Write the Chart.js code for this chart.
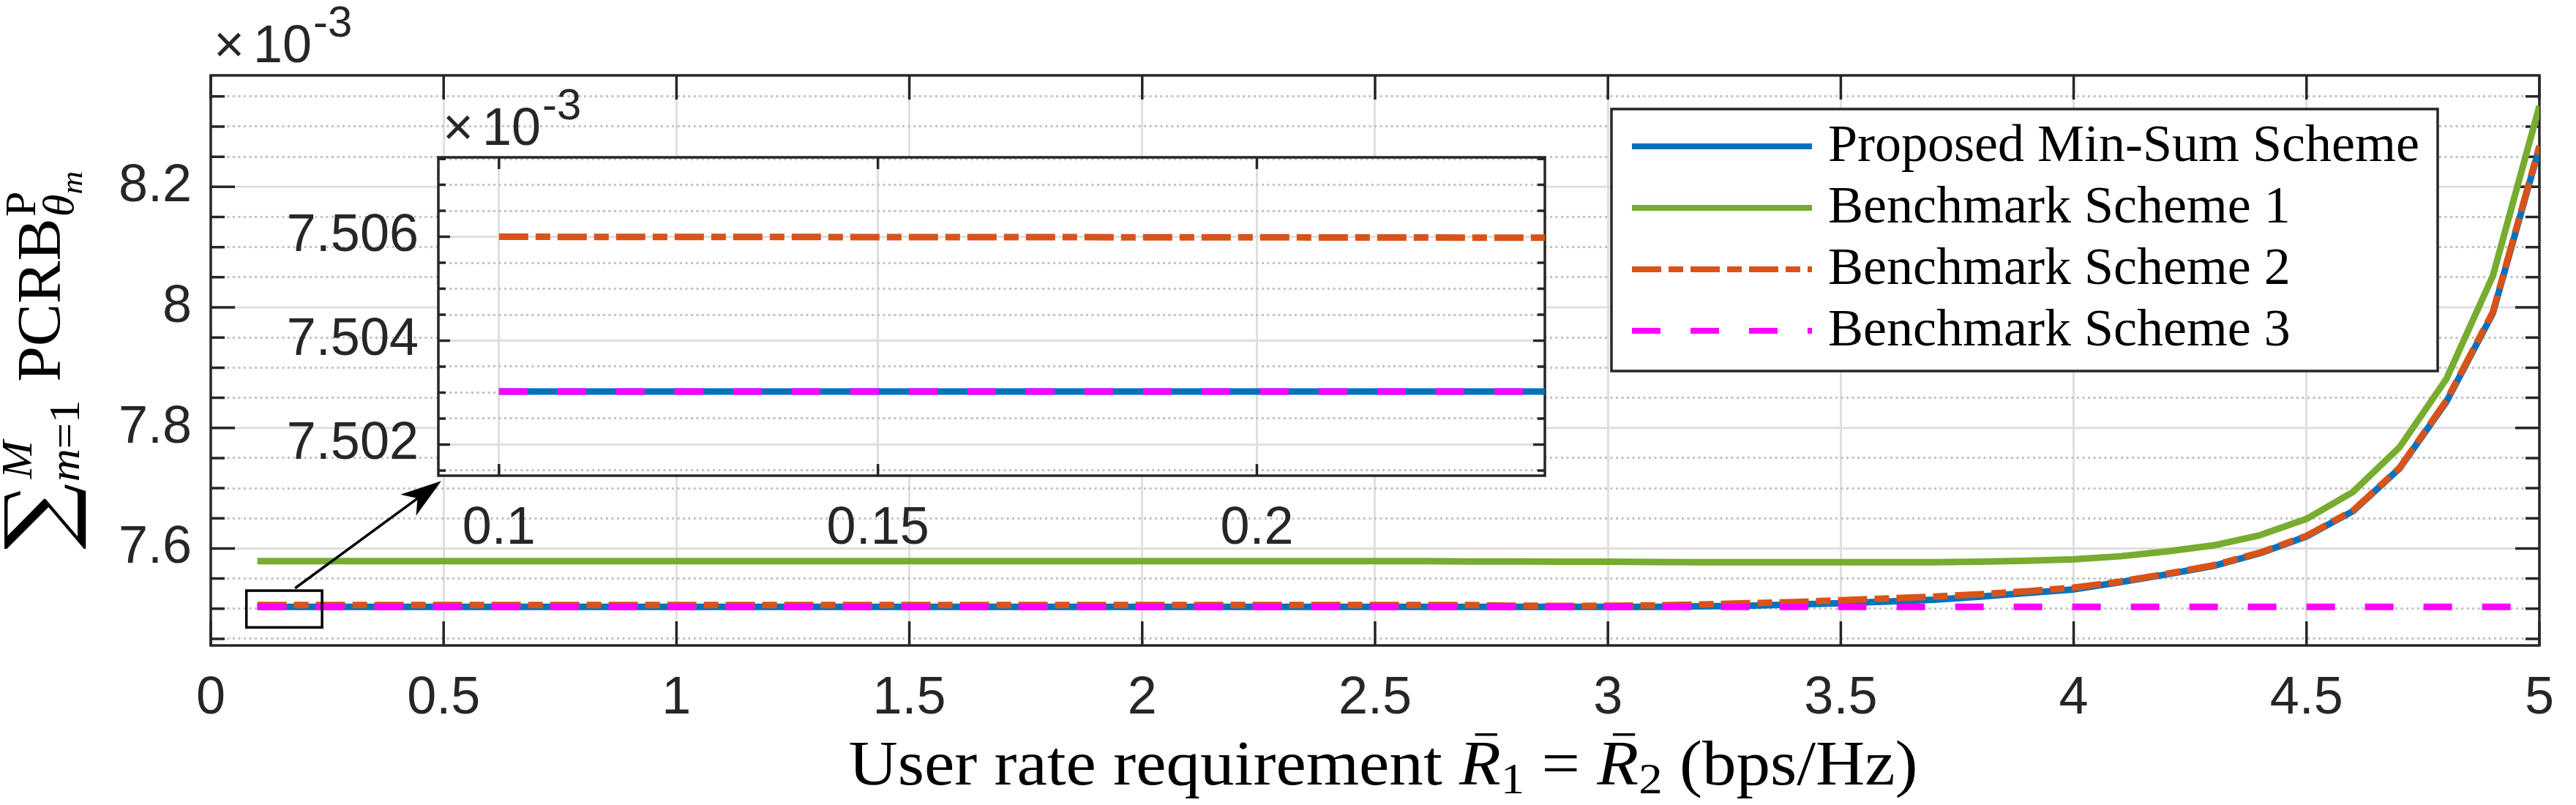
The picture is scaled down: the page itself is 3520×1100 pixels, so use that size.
<!DOCTYPE html>
<html>
<head>
<meta charset="utf-8">
<script src="https://cdn.jsdelivr.net/npm/chart.js@4.4.1/dist/chart.umd.min.js"></script>
<style>
  html, body { margin: 0; padding: 0; background: #fff; }
  #wrap { position: relative; width: 3520px; height: 1100px; }
  #wrap canvas { position: absolute; left: 0; top: 0; }
</style>
</head>
<body>
<div id="wrap">
  <canvas id="main" width="3520" height="1100"></canvas>
  <canvas id="inset" width="3520" height="1100"></canvas>
</div>
<script>
// user rate requirement (bps/Hz)
const rates = [
  0.1, 0.2, 0.3, 0.4, 0.5, 0.6, 0.7, 0.8, 0.9, 1.0,
  1.1, 1.2, 1.3, 1.4, 1.5, 1.6, 1.7, 1.8, 1.9, 2.0,
  2.1, 2.2, 2.3, 2.4, 2.5, 2.6, 2.7, 2.8, 2.9, 3.0,
  3.1, 3.2, 3.3, 3.4, 3.5, 3.6, 3.7, 3.8, 3.9, 4.0,
  4.1, 4.2, 4.3, 4.4, 4.5, 4.6, 4.7, 4.8, 4.9, 5.0
];

// sum PCRB, in units of 1e-3
const proposed = [
  7.50302, 7.50302, 7.50302, 7.50302, 7.50302, 7.50302, 7.50302, 7.50302, 7.50302, 7.50302,
  7.50302, 7.50302, 7.50302, 7.50302, 7.50302, 7.50302, 7.50302, 7.50302, 7.50302, 7.50302,
  7.50302, 7.50302, 7.50302, 7.50302, 7.50302, 7.50302, 7.50302, 7.50302, 7.50302, 7.50302,
  7.503, 7.504, 7.505, 7.507, 7.509, 7.512, 7.515, 7.520, 7.526, 7.532,
  7.544, 7.557, 7.571, 7.592, 7.620, 7.662, 7.733, 7.843, 7.990, 8.265
];
const scheme1 = [
  7.579, 7.579, 7.579, 7.579, 7.579, 7.579, 7.579, 7.579, 7.579, 7.579,
  7.579, 7.579, 7.579, 7.579, 7.579, 7.579, 7.579, 7.579, 7.579, 7.579,
  7.579, 7.579, 7.579, 7.579, 7.579, 7.579, 7.5785, 7.5785, 7.578, 7.578,
  7.5775, 7.5772, 7.577, 7.577, 7.577, 7.577, 7.5772, 7.578, 7.5795, 7.582,
  7.587, 7.595, 7.605, 7.622, 7.649, 7.694, 7.768, 7.881, 8.052, 8.334
];
const scheme2 = [
  7.506, 7.50599, 7.50597, 7.50596, 7.50595, 7.50595, 7.50595, 7.50595, 7.50595, 7.50595,
  7.50595, 7.50595, 7.50595, 7.50595, 7.50595, 7.50595, 7.50595, 7.50595, 7.50595, 7.50595,
  7.50595, 7.50595, 7.50595, 7.50595, 7.50595, 7.50595, 7.506, 7.505, 7.5045, 7.505,
  7.5055, 7.507, 7.509, 7.511, 7.514, 7.517, 7.520, 7.524, 7.529, 7.535,
  7.545, 7.558, 7.572, 7.593, 7.621, 7.663, 7.734, 7.845, 7.992, 8.268
];
const scheme3 = [
  7.50302, 7.50302, 7.50302, 7.50302, 7.50302, 7.50302, 7.50302, 7.50302, 7.50302, 7.50302,
  7.50302, 7.50302, 7.50302, 7.50302, 7.50302, 7.50302, 7.50302, 7.50302, 7.50302, 7.50302,
  7.50302, 7.50302, 7.50302, 7.50302, 7.50302, 7.50302, 7.50302, 7.50302, 7.50302, 7.50302,
  7.50302, 7.50302, 7.50302, 7.50302, 7.50302, 7.50302, 7.50302, 7.50302, 7.50302, 7.50302,
  7.50302, 7.50302, 7.50302, 7.50302, 7.50302, 7.50302, 7.50302, 7.50302, 7.50302, 7.50302
];
const seriesNames = ['Proposed Min-Sum Scheme', 'Benchmark Scheme 1', 'Benchmark Scheme 2', 'Benchmark Scheme 3'];

// main axes ticks
const xTicks = [0, 0.5, 1, 1.5, 2, 2.5, 3, 3.5, 4, 4.5, 5];
const xTickLabels = ['0', '0.5', '1', '1.5', '2', '2.5', '3', '3.5', '4', '4.5', '5'];
const yMajor = [7.6, 7.8, 8.0, 8.2];
const yTickLabels = ['7.6', '7.8', '8', '8.2'];
const yMinor = [7.45, 7.5, 7.55, 7.6, 7.65, 7.7, 7.75, 7.8, 7.85, 7.9, 7.95, 8.0, 8.05, 8.1, 8.15, 8.2, 8.25, 8.3, 8.35];
const yRange = [7.439, 8.385];

// inset ticks
const insetXTicks = [0.1, 0.15, 0.2];
const insetXTickLabels = ['0.1', '0.15', '0.2'];
const insetXRange = [0.092, 0.238];
const insetYMajor = [7.502, 7.504, 7.506];
const insetYTickLabels = ['7.502', '7.504', '7.506'];
const insetYMinor = [7.5015, 7.502, 7.5025, 7.503, 7.5035, 7.504, 7.5045, 7.505, 7.5055, 7.506, 7.5065, 7.507, 7.5075];
const insetYRange = [7.5014, 7.50753];

// zoom marker (data coords of main axes)
const zoomBox = [[0.0765, 7.530], [0.239, 7.469]];
const arrowFrom = [0.181, 7.534];
const arrowTo = [0.495, 7.712];

const SANS = '"Liberation Sans", Arial, Helvetica, sans-serif';
const SERIF = '"Liberation Serif", "Times New Roman", serif';
const AXIS = '#262626';
const GRID = '#dfdfdf';
const MINOR = '#c2c2c2';
const CLEAR = 'rgba(0,0,0,0)';

const COLORS = ['#0072BD', '#77AC30', '#D95319', '#FF00FF'];
const DASHES = [[], [], [40, 10, 20, 10], [39, 41]];
const ORDERS = [3, 2, 1, 0];

function near(list, v) {
  return list.some(m => Math.abs(m - v) < 1e-9);
}

function makeDatasets() {
  return [proposed, scheme1, scheme2, scheme3].map((vals, i) => ({
    label: seriesNames[i],
    data: rates.map((r, j) => ({ x: r, y: vals[j] })),
    borderColor: COLORS[i],
    borderWidth: 9,
    borderDash: DASHES[i],
    borderCapStyle: 'butt',
    borderJoinStyle: 'round',
    pointRadius: 0,
    fill: false,
    tension: 0,
    order: ORDERS[i]
  }));
}

function drawFrame(ctx, a, x, y, xt, yt, ymaj, majLen, minLen) {
  ctx.save();
  ctx.strokeStyle = AXIS;
  ctx.lineWidth = 3.5;
  ctx.beginPath();
  xt.forEach(v => {
    const p = x.getPixelForValue(v);
    ctx.moveTo(p, a.bottom); ctx.lineTo(p, a.bottom - majLen);
    ctx.moveTo(p, a.top); ctx.lineTo(p, a.top + majLen);
  });
  yt.forEach(v => {
    const p = y.getPixelForValue(v);
    const L = near(ymaj, v) ? majLen : minLen;
    ctx.moveTo(a.left, p); ctx.lineTo(a.left + L, p);
    ctx.moveTo(a.right, p); ctx.lineTo(a.right - L, p);
  });
  ctx.stroke();
  ctx.strokeRect(a.left, a.top, a.right - a.left, a.bottom - a.top);
  ctx.restore();
}

function majorGrid(ctx, a, y, ymaj) {
  ctx.save();
  ctx.strokeStyle = GRID;
  ctx.lineWidth = 3;
  ctx.beginPath();
  ymaj.forEach(v => {
    const p = y.getPixelForValue(v);
    ctx.moveTo(a.left, p); ctx.lineTo(a.right, p);
  });
  ctx.stroke();
  ctx.restore();
}

function drawExponent(ctx, x0, base) {
  ctx.save();
  ctx.fillStyle = AXIS;
  ctx.textBaseline = 'alphabetic';
  ctx.font = '72px ' + SANS;
  ctx.fillText('\u00d7', x0, base);
  ctx.fillText('10', x0 + 54, base);
  ctx.font = '60px ' + SANS;
  ctx.fillText('-3', x0 + 136, base - 35);
  ctx.restore();
}

function drawXTitle(ctx) {
  const F = { rom: '86px ' + SERIF, it: 'italic 86px ' + SERIF, sub: '60px ' + SERIF };
  const parts = [
    ['User rate requirement ', 'rom', 0, false],
    ['R', 'it', 0, true], ['1', 'sub', 12, false],
    [' = ', 'rom', 0, false],
    ['R', 'it', 0, true], ['2', 'sub', 12, false],
    [' (bps/Hz)', 'rom', 0, false]
  ];
  ctx.save();
  let total = 0;
  const widths = parts.map(p => { ctx.font = F[p[1]]; const w = ctx.measureText(p[0]).width; total += w; return w; });
  const target = 1461;
  ctx.translate(1890 - target / 2, 1072);
  ctx.scale(target / total, 1);
  ctx.fillStyle = '#000';
  ctx.textBaseline = 'alphabetic';
  let pos = 0;
  parts.forEach((p, i) => {
    ctx.font = F[p[1]];
    ctx.fillText(p[0], pos, p[2]);
    if (p[3]) {
      ctx.fillRect(pos + widths[i] * 0.38, -70, 28, 3.5);
    }
    pos += widths[i];
  });
  ctx.restore();
}

function drawYTitle(ctx) {
  const F = {
    sum: '122px "DejaVu Serif", serif',
    scr: 'italic 60px ' + SERIF,
    scrR: '60px ' + SERIF,
    body: '84px ' + SERIF,
    ss: 'italic 42px ' + SERIF
  };
  const w = (t, f) => { ctx.font = f; return ctx.measureText(t).width; };
  ctx.save();
  const sumStretch = 1.0;
  const sumW = w('\u2211', F.sum) * sumStretch;
  const mW = w('m', F.scr);
  const subW = mW + w('=1', F.scrR);
  const supW = w('M', F.scr);
  const limW = Math.max(subW, supW);
  const bodyW = w('PCRB', F.body);
  const thW = w('\u03b8', F.scr);
  const tailW = Math.max(w('P', F.scrR), thW + w('m', F.ss));
  const gap = 24;
  const total = sumW + 2 + limW + gap + bodyW + 2 + tailW;
  const k = 517 / total;
  ctx.translate(82, 492.5);
  ctx.rotate(-Math.PI / 2);
  ctx.scale(k, 1);
  ctx.fillStyle = '#000';
  ctx.textBaseline = 'alphabetic';
  let a = -total / 2;
  ctx.save();
  ctx.font = F.sum;
  ctx.translate(a, 12);
  ctx.scale(sumStretch, 1);
  ctx.fillText('\u2211', 0, 0);
  ctx.restore();
  a += sumW + 2;
  ctx.font = F.scr;
  ctx.fillText('M', a + 4, -39);
  ctx.fillText('m', a, 26);
  ctx.font = F.scrR;
  ctx.fillText('=1', a + mW, 26);
  a += limW + gap;
  ctx.font = F.body;
  ctx.fillText('PCRB', a, 0);
  a += bodyW + 2;
  ctx.font = F.scrR;
  ctx.fillText('P', a, -34);
  ctx.font = F.scr;
  ctx.fillText('\u03b8', a, 18);
  ctx.font = F.ss;
  ctx.fillText('m', a + thW, 30);
  ctx.restore();
}

function drawLegend(chart) {
  const ctx = chart.ctx;
  const box = { left: 2202, top: 149, right: 3331, bottom: 507 };
  const rows = [200, 284, 368, 452];
  ctx.save();
  ctx.fillStyle = '#fff';
  ctx.fillRect(box.left, box.top, box.right - box.left, box.bottom - box.top);
  ctx.strokeStyle = AXIS;
  ctx.lineWidth = 3.5;
  ctx.strokeRect(box.left, box.top, box.right - box.left, box.bottom - box.top);
  chart.data.datasets.forEach((ds, i) => {
    const yy = rows[i];
    ctx.strokeStyle = ds.borderColor;
    ctx.lineWidth = 8;
    ctx.setLineDash(ds.borderDash);
    ctx.beginPath();
    ctx.moveTo(2230, yy); ctx.lineTo(2476, yy);
    ctx.stroke();
    ctx.setLineDash([]);
    ctx.fillStyle = '#000';
    ctx.font = '72px ' + SERIF;
    ctx.textBaseline = 'alphabetic';
    ctx.fillText(ds.label, 2498, yy + 20);
  });
  ctx.restore();
}

function drawZoomMarker(chart) {
  const { ctx, scales: { x, y } } = chart;
  ctx.save();
  ctx.strokeStyle = '#000';
  ctx.lineWidth = 3.5;
  const bx0 = x.getPixelForValue(zoomBox[0][0]), by0 = y.getPixelForValue(zoomBox[0][1]);
  const bx1 = x.getPixelForValue(zoomBox[1][0]), by1 = y.getPixelForValue(zoomBox[1][1]);
  ctx.strokeRect(bx0, by0, bx1 - bx0, by1 - by0);
  const ax0 = x.getPixelForValue(arrowFrom[0]), ay0 = y.getPixelForValue(arrowFrom[1]);
  const ax1 = x.getPixelForValue(arrowTo[0]), ay1 = y.getPixelForValue(arrowTo[1]);
  const ang = Math.atan2(ay1 - ay0, ax1 - ax0);
  const len = 56, half = 18;
  const bx = ax1 - Math.cos(ang) * len, by = ay1 - Math.sin(ang) * len;
  const nx = -Math.sin(ang), ny = Math.cos(ang);
  ctx.beginPath();
  ctx.moveTo(ax0, ay0);
  ctx.lineTo(ax1 - Math.cos(ang) * len * 0.7, ay1 - Math.sin(ang) * len * 0.7);
  ctx.stroke();
  ctx.fillStyle = '#000';
  ctx.beginPath();
  ctx.moveTo(ax1, ay1);
  ctx.lineTo(bx + nx * half, by + ny * half);
  ctx.lineTo(ax1 - Math.cos(ang) * len * 0.72, ay1 - Math.sin(ang) * len * 0.72);
  ctx.lineTo(bx - nx * half, by - ny * half);
  ctx.closePath();
  ctx.fill();
  ctx.restore();
}

const mainPlugin = {
  id: 'mainFrame',
  beforeDatasetsDraw(chart) {
    const { ctx, chartArea: a, scales: { x, y } } = chart;
    majorGrid(ctx, a, y, yMajor);
    drawFrame(ctx, a, x, y, xTicks, yMinor, yMajor, 33, 19);
  },
  afterDatasetsDraw(chart) {
    drawZoomMarker(chart);
    drawLegend(chart);
  },
  afterDraw(chart) {
    const ctx = chart.ctx;
    drawExponent(ctx, 292, 85);
    drawXTitle(ctx);
    drawYTitle(ctx);
  }
};

const insetPlugin = {
  id: 'insetFrame',
  beforeDraw(chart) {
    const { ctx, chartArea: a } = chart;
    ctx.save();
    ctx.fillStyle = '#fff';
    ctx.fillRect(a.left, a.top, a.right - a.left, a.bottom - a.top);
    ctx.restore();
  },
  beforeDatasetsDraw(chart) {
    const { ctx, chartArea: a, scales: { x, y } } = chart;
    majorGrid(ctx, a, y, insetYMajor);
    drawFrame(ctx, a, x, y, insetXTicks, insetYMinor, insetYMajor, 16, 10);
  },
  afterDraw(chart) {
    drawExponent(chart.ctx, 605, 198);
  }
};

const tickFont = { family: SANS, size: 72 };

new Chart(document.getElementById('main'), {
  type: 'line',
  data: { datasets: makeDatasets() },
  options: {
    responsive: false,
    devicePixelRatio: 1,
    animation: false,
    layout: { padding: { left: 0, right: 29, top: 103, bottom: 0 } },
    plugins: { legend: { display: false }, tooltip: { enabled: false } },
    scales: {
      x: {
        type: 'linear',
        min: 0,
        max: 5,
        afterBuildTicks: s => { s.ticks = xTicks.map(v => ({ value: v })); },
        afterFit: s => { s.height = 218; },
        ticks: {
          autoSkip: false, maxRotation: 0, padding: 30, color: AXIS, font: tickFont,
          callback: (v, i) => xTickLabels[i]
        },
        grid: {
          drawTicks: false, lineWidth: 3,
          color: c => (c.tick && (c.tick.value === 0 || c.tick.value === 5)) ? CLEAR : GRID
        },
        border: { display: false }
      },
      y: {
        type: 'linear',
        min: yRange[0],
        max: yRange[1],
        afterBuildTicks: s => { s.ticks = yMinor.map(v => ({ value: v })); },
        afterFit: s => { s.width = 288; },
        ticks: {
          autoSkip: false, padding: 26, color: AXIS, font: tickFont,
          callback: v => {
            const k = yMajor.findIndex(m => Math.abs(m - v) < 1e-9);
            return k >= 0 ? yTickLabels[k] : '';
          }
        },
        grid: {
          drawTicks: false, lineWidth: 3,
          color: c => (c.tick && near(yMajor, c.tick.value)) ? CLEAR : MINOR
        },
        border: { display: false, dash: [3, 4.5] }
      }
    }
  },
  plugins: [mainPlugin]
});

new Chart(document.getElementById('inset'), {
  type: 'line',
  data: { datasets: makeDatasets() },
  options: {
    responsive: false,
    devicePixelRatio: 1,
    animation: false,
    layout: { padding: { left: 0, right: 1409, top: 215, bottom: 0 } },
    plugins: { legend: { display: false }, tooltip: { enabled: false } },
    scales: {
      x: {
        type: 'linear',
        min: insetXRange[0],
        max: insetXRange[1],
        afterBuildTicks: s => { s.ticks = insetXTicks.map(v => ({ value: v })); },
        afterFit: s => { s.height = 450; },
        ticks: {
          autoSkip: false, maxRotation: 0, padding: 30, color: AXIS, font: tickFont,
          callback: (v, i) => insetXTickLabels[i]
        },
        grid: { drawTicks: false, lineWidth: 3, color: GRID },
        border: { display: false }
      },
      y: {
        type: 'linear',
        min: insetYRange[0],
        max: insetYRange[1],
        afterBuildTicks: s => { s.ticks = insetYMinor.map(v => ({ value: v })); },
        afterFit: s => { s.width = 599; },
        ticks: {
          autoSkip: false, padding: 27, color: AXIS, font: tickFont,
          callback: v => {
            const k = insetYMajor.findIndex(m => Math.abs(m - v) < 1e-9);
            return k >= 0 ? insetYTickLabels[k] : '';
          }
        },
        grid: {
          drawTicks: false, lineWidth: 3,
          color: c => (c.tick && near(insetYMajor, c.tick.value)) ? CLEAR : MINOR
        },
        border: { display: false, dash: [3, 4.5] }
      }
    }
  },
  plugins: [insetPlugin]
});
</script>
</body>
</html>
